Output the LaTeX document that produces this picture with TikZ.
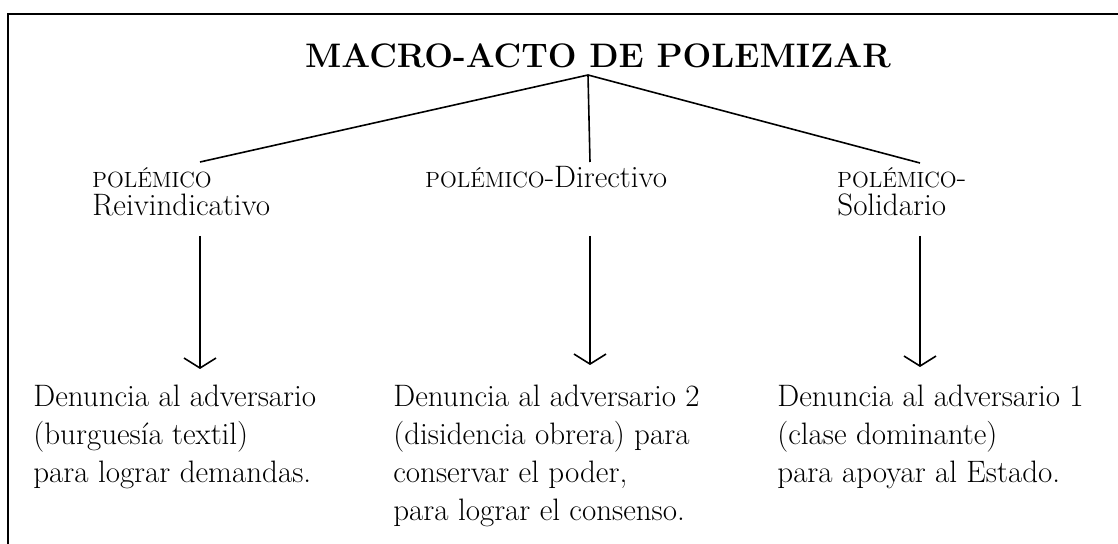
\documentclass[tikz,border=0pt]{standalone}
\usepackage{fontspec}
\usetikzlibrary{arrows.meta,positioning}
\tikzset{
  titlelbl/.style={inner sep=0pt, font=\fontsize{17}{20}\bfseries},
  branchlbl/.style={inner sep=0pt, align=left, font=\fontsize{15.5}{14}\selectfont},
  denlbl/.style={inner sep=0pt, align=left, font=\fontsize{15.5}{19}\selectfont},
  link/.style={line width=0.8pt},
  downarrow/.style={line width=0.8pt, -{Straight Barb[length=5pt,width=16pt]}},
  frameline/.style={line width=1pt}
}
\newcommand{\polem}{{\fontsize{11}{14}\selectfont POLÉMICO}}

\begin{document}
\begin{tikzpicture}[x=0.5pt,y=-0.5pt]
  \useasboundingbox (0,0) rectangle (1118,544);
  % open frame (left and top sides only)
  \draw[frameline] (8,544) -- (8,14) -- (1118,14);

  % title and branches
  \node[titlelbl,anchor=base] (macro) at (598,68) {MACRO-ACTO DE POLEMIZAR};
  \coordinate (apex) at (588,75);
  \node[branchlbl,anchor=base west] (reiv) at (92,216) {\polem\\Reivindicativo};
  \node[branchlbl,anchor=base west] (dir) at (425,188) {\polem-Directivo};
  \node[branchlbl,anchor=base west] (sol) at (837,216) {\polem-\\Solidario};
  \coordinate (reivtop) at (200,162);
  \coordinate (dirtop) at (590,162);
  \coordinate (soltop) at (920,163);
  \draw[link] (apex) -- (reivtop);
  \draw[link] (apex) -- (dirtop);
  \draw[link] (apex) -- (soltop);

  % consequences
  \node[denlbl,anchor=north west] (den1) at (33,385)
    {Denuncia al adversario\\(burguesía textil)\\para lograr demandas.};
  \node[denlbl,anchor=north west] (den2) at (393,385)
    {Denuncia al adversario 2\\(disidencia obrera) para\\conservar el poder,\\para lograr el consenso.};
  \node[denlbl,anchor=north west] (den3) at (777,385)
    {Denuncia al adversario 1\\(clase dominante)\\para apoyar al Estado.};

  \draw[downarrow] ([yshift=-9.5pt]reiv.south -| reivtop) -- ([yshift=8pt]den1.north -| reivtop);
  \draw[downarrow] ([yshift=-23.5pt]dir.south -| dirtop) -- ([yshift=10pt]den2.north -| dirtop);
  \draw[downarrow] ([yshift=-9.5pt]sol.south -| soltop) -- ([yshift=9pt]den3.north -| soltop);
\end{tikzpicture}
\end{document}
